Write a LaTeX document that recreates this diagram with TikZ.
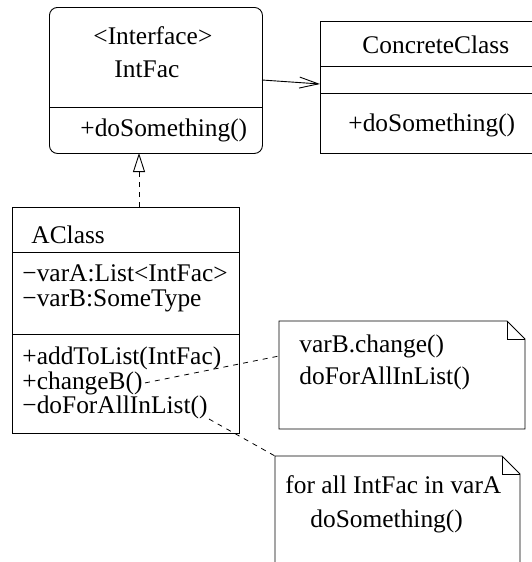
\documentclass[tikz,border=0pt]{standalone}
\usepackage{fontspec}
\setmainfont{Liberation Serif}
\usetikzlibrary{arrows.meta}
\begin{document}
\begin{tikzpicture}[x=1pt, y=-1pt,
  line width=0.9pt,
  every node/.style={font=\fontsize{25.4}{30}\selectfont},
  box/.style={draw, inner sep=0pt, anchor=north west},
  txt/.style={inner sep=0pt, anchor=base west},
  divider/.style={line width=0.9pt},
  notelink/.style={dash pattern=on 5pt off 5pt, line width=0.8pt},
  realize/.style={dash pattern=on 5pt off 5pt, -{Triangle[open, length=19pt, width=12pt]}},
  assoc/.style={-{Straight Barb[length=19pt, width=11pt]}},
]
\useasboundingbox (0,0) rectangle (532,562);
\clip (0,0) rectangle (532,562);

% interface IntFac
\node[box, rounded corners=8pt, minimum width=213pt, minimum height=146pt] (intf) at (49,7) {};
\draw[divider] (intf.west |- 0,107) coordinate (intfdl) -- (intf.east |- 0,107) coordinate (intfdr);
\node[txt] (intfstereo) at (93,44) {<Interface>};
\node[txt] (intfname) at (114,77) {IntFac};
\node[txt] (intfop) at (80,136) {+doSomething()};

% ConcreteClass (runs past the right margin)
\node[box, minimum width=230pt, minimum height=132pt] (conc) at (320,21) {};
\draw[divider] (conc.west |- 0,66) -- (conc.east |- 0,66);
\draw[divider] (conc.west |- 0,93) -- (conc.east |- 0,93);
\node[txt] (concname) at (362,53) {ConcreteClass};
\node[txt] (concop) at (348,131) {+doSomething()};

% AClass
\node[box, minimum width=227pt, minimum height=226pt] (acls) at (12,207) {};
\draw[divider] (acls.west |- 0,252) -- (acls.east |- 0,252);
\draw[divider] (acls.west |- 0,334) -- (acls.east |- 0,334);
\node[txt] (aclsname) at (31,243) {AClass};
\node[txt] (varA) at (22,281) {−varA:List<IntFac>};
\node[txt] (varB) at (22,306) {−varB:SomeType};
\node[txt] (opadd) at (22,364) {+addToList(IntFac)};
\node[txt] (opchange) at (22,389) {+changeB()};
\node[txt] (opdoall) at (22,413) {−doForAllInList()};

% note attached to changeB()
\coordinate (n1nw) at (279,321);
\coordinate (n1se) at (525,429);
\draw (n1nw) -- (507,321) -- (525,339) -- (n1se) -- (279,429) -- cycle;
\draw (507,321) -- (507,339) -- (525,339);
\node[txt] (n1a) at (299,352) {varB.change()};
\node[txt] (n1b) at (299,384) {doForAllInList()};

% note attached to doForAllInList(), open at the bottom
\coordinate (n2nw) at (275,456);
\draw (275,570) -- (n2nw) -- (502,456) -- (520,474) -- (520,570);
\draw (502,456) -- (502,474) -- (520,474);
\node[txt] (n2a) at (285,493) {for all IntFac in varA};
\node[txt] (n2b) at (310,527) {doSomething()};

% connectors
\coordinate (realtop) at (139,153);
\draw[realize] (acls.north -| realtop) -- (realtop);
\draw[assoc] (262,80) coordinate (assocstart) -- (320,84) coordinate (assocend);
\draw[notelink] (opchange.east) ++(2pt,0) coordinate (chg) -- (279,356) coordinate (n1pin);
\draw[notelink] (opdoall.base east) ++(1pt,-6pt) coordinate (doall) -- (n2nw);
\end{tikzpicture}
\end{document}
